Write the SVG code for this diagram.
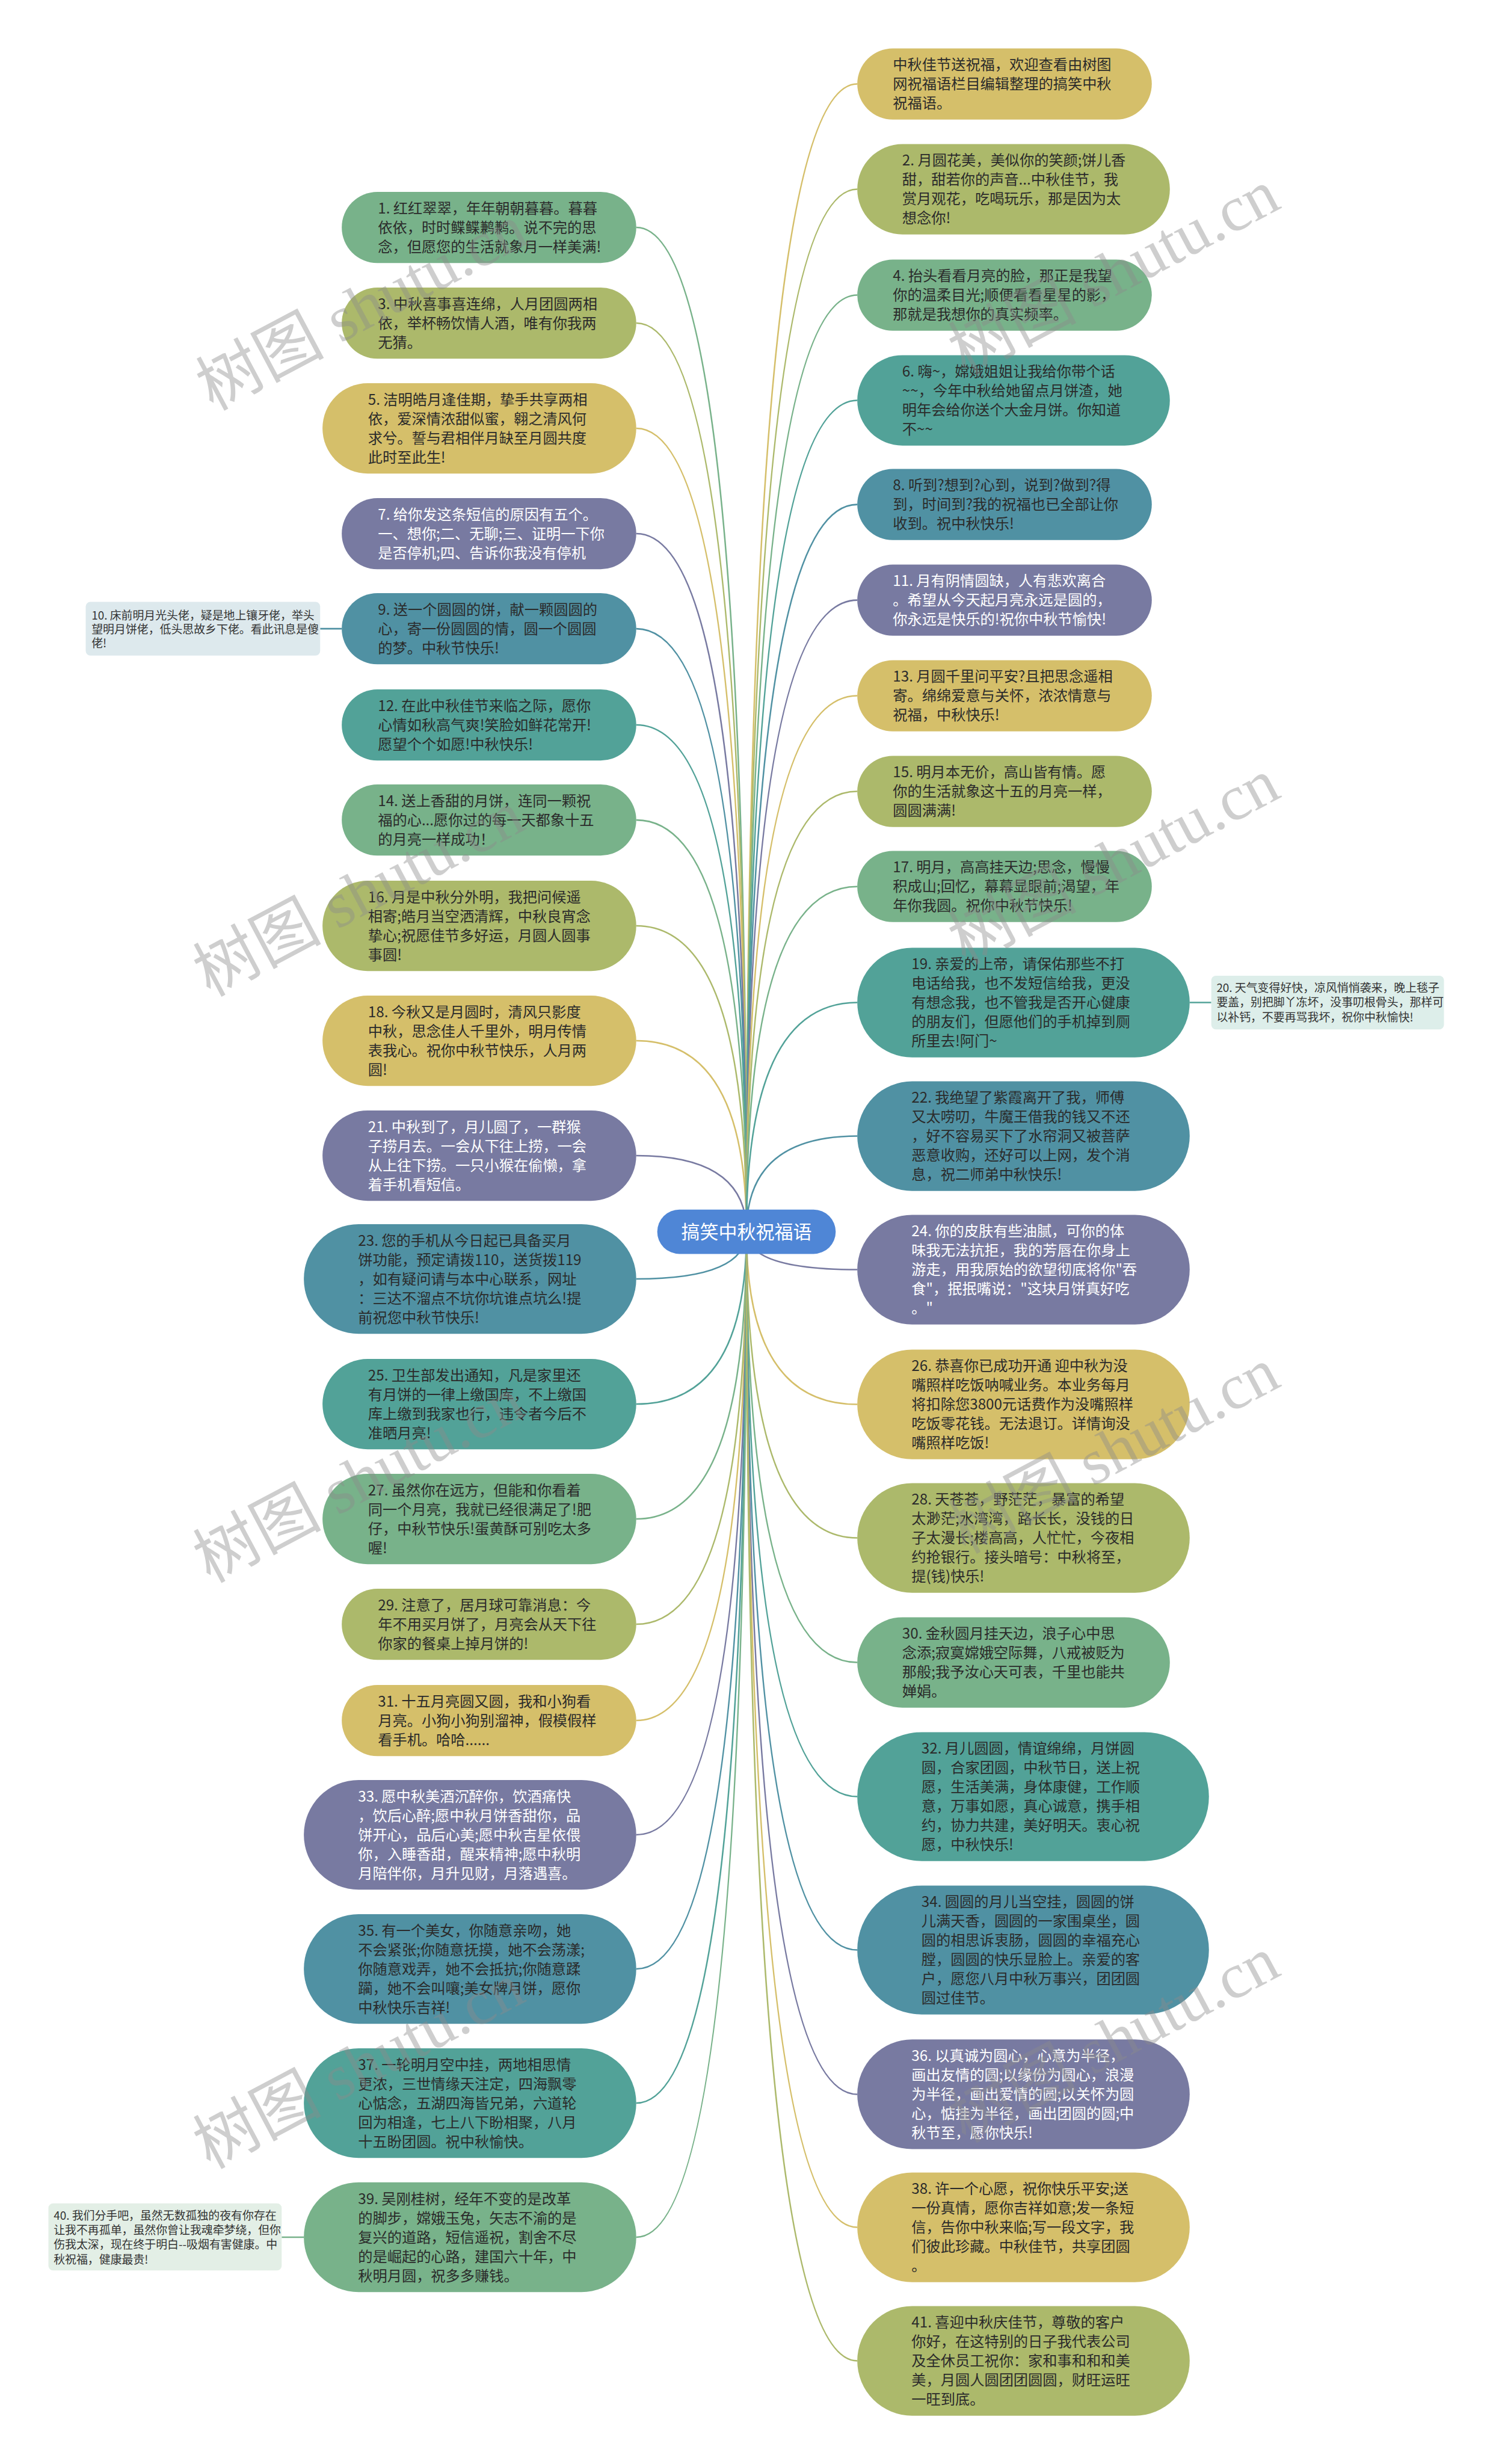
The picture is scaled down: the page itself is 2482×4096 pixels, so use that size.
<svg xmlns="http://www.w3.org/2000/svg" width="2482" height="4096" viewBox="0 0 2482 4096">
<style>
.t{font-family:"Noto Sans CJK SC","Noto Sans",sans-serif;font-size:25px;fill:#2b2b2b}
.w{fill:#ffffff}
.s{font-size:19.5px;fill:#333333}
.c{fill:none;stroke-width:2.6}
.green{fill:#78b28a}.olive{fill:#acb96b}.gold{fill:#d5bf6a}.purple{fill:#787aa1}.blue{fill:#5091a3}.teal{fill:#52a298}
.sg{stroke:#78b28a}.so{stroke:#acb96b}.sd{stroke:#d5bf6a}.sp{stroke:#787aa1}.sb{stroke:#5091a3}.st{stroke:#52a298}
.wm{font-family:"Liberation Serif","Noto Sans CJK SC",serif;font-size:110px;fill:#8c8c8c;opacity:0.42}
</style>
<rect width="2482" height="4096" fill="#ffffff"/>
<g transform="scale(0.9695)">
<g id="connectors">
<path class="c sg" d="M1280,2112 Q1280,390 1091,390"/>
<path class="c so" d="M1280,2112 Q1280,554 1091,554"/>
<path class="c sd" d="M1280,2112 Q1280,734.5 1091,734.5"/>
<path class="c sp" d="M1280,2112 Q1280,915 1091,915"/>
<path class="c sb" d="M1280,2112 Q1280,1078 1091,1078"/>
<path class="c st" d="M1280,2112 Q1280,1243 1091,1243"/>
<path class="c sg" d="M1280,2112 Q1280,1406 1091,1406"/>
<path class="c so" d="M1280,2112 Q1280,1587.5 1091,1587.5"/>
<path class="c sd" d="M1280,2112 Q1280,1784.5 1091,1784.5"/>
<path class="c sp" d="M1280,2112 Q1280,1981.5 1091,1981.5"/>
<path class="c sb" d="M1280,2112 Q1280,2193 1091,2193"/>
<path class="c st" d="M1280,2112 Q1280,2407.5 1091,2407.5"/>
<path class="c sg" d="M1280,2112 Q1280,2604.5 1091,2604.5"/>
<path class="c so" d="M1280,2112 Q1280,2785 1091,2785"/>
<path class="c sd" d="M1280,2112 Q1280,2950 1091,2950"/>
<path class="c sp" d="M1280,2112 Q1280,3146 1091,3146"/>
<path class="c sb" d="M1280,2112 Q1280,3376 1091,3376"/>
<path class="c st" d="M1280,2112 Q1280,3606 1091,3606"/>
<path class="c sg" d="M1280,2112 Q1280,3836 1091,3836"/>
<path class="c sd" d="M1280,2112 Q1280,144 1470,144"/>
<path class="c so" d="M1280,2112 Q1280,324.5 1470,324.5"/>
<path class="c sg" d="M1280,2112 Q1280,506 1470,506"/>
<path class="c st" d="M1280,2112 Q1280,686.5 1470,686.5"/>
<path class="c sb" d="M1280,2112 Q1280,865 1470,865"/>
<path class="c sp" d="M1280,2112 Q1280,1029 1470,1029"/>
<path class="c sd" d="M1280,2112 Q1280,1193 1470,1193"/>
<path class="c so" d="M1280,2112 Q1280,1357 1470,1357"/>
<path class="c sg" d="M1280,2112 Q1280,1520 1470,1520"/>
<path class="c st" d="M1280,2112 Q1280,1719 1470,1719"/>
<path class="c sb" d="M1280,2112 Q1280,1948 1470,1948"/>
<path class="c sp" d="M1280,2112 Q1280,2177 1470,2177"/>
<path class="c sd" d="M1280,2112 Q1280,2408 1470,2408"/>
<path class="c so" d="M1280,2112 Q1280,2637 1470,2637"/>
<path class="c sg" d="M1280,2112 Q1280,2850.5 1470,2850.5"/>
<path class="c st" d="M1280,2112 Q1280,3080.5 1470,3080.5"/>
<path class="c sb" d="M1280,2112 Q1280,3343.5 1470,3343.5"/>
<path class="c sp" d="M1280,2112 Q1280,3591 1470,3591"/>
<path class="c sd" d="M1280,2112 Q1280,3819 1470,3819"/>
<path class="c so" d="M1280,2112 Q1280,4048 1470,4048"/>
<path class="c sb" d="M549,1078 H586"/>
<path class="c st" d="M2040,1719 H2077"/>
<path class="c sg" d="M483,3836 H521"/>
</g>
<g id="center">
<rect x="1127" y="2074" width="306" height="76" rx="38" fill="#4f86d6"/>
<text x="1280" y="2124" text-anchor="middle" style="font-family:'Noto Sans CJK SC',sans-serif;font-size:32px;fill:#ffffff">搞笑中秋祝福语</text>
</g>
<g id="n1"><rect class="green" x="586" y="329" width="505" height="122" rx="61"/><text class="t" y="366"><tspan x="648">1. 红红翠翠，年年朝朝暮暮。暮暮</tspan><tspan x="648" dy="33">依依，时时鲽鲽鹣鹣。说不完的思</tspan><tspan x="648" dy="33">念，但愿您的生活就象月一样美满!</tspan></text></g>
<g id="n3"><rect class="olive" x="586" y="493" width="505" height="122" rx="61"/><text class="t" y="530"><tspan x="648">3. 中秋喜事喜连绵，人月团圆两相</tspan><tspan x="648" dy="33">依，举杯畅饮情人酒，唯有你我两</tspan><tspan x="648" dy="33">无猜。</tspan></text></g>
<g id="n5"><rect class="gold" x="553" y="657" width="538" height="155" rx="77.5"/><text class="t" y="694"><tspan x="631">5. 洁明皓月逢佳期，挚手共享两相</tspan><tspan x="631" dy="33">依，爱深情浓甜似蜜，翱之清风何</tspan><tspan x="631" dy="33">求兮。誓与君相伴月缺至月圆共度</tspan><tspan x="631" dy="33">此时至此生!</tspan></text></g>
<g id="n7"><rect class="purple" x="586" y="854" width="505" height="122" rx="61"/><text class="t w" y="891"><tspan x="648">7. 给你发这条短信的原因有五个。</tspan><tspan x="648" dy="33">一、想你;二、无聊;三、证明一下你</tspan><tspan x="648" dy="33">是否停机;四、告诉你我没有停机</tspan></text></g>
<g id="n9"><rect class="blue" x="586" y="1017" width="505" height="122" rx="61"/><text class="t" y="1054"><tspan x="648">9. 送一个圆圆的饼，献一颗圆圆的</tspan><tspan x="648" dy="33">心，寄一份圆圆的情，圆一个圆圆</tspan><tspan x="648" dy="33">的梦。中秋节快乐!</tspan></text></g>
<g id="n10"><rect x="147" y="1032" width="402" height="92" rx="8" fill="#dde9ed"/><text class="t s" y="1062"><tspan x="157">10. 床前明月光头佬，疑是地上镶牙佬，举头</tspan><tspan x="157" dy="24">望明月饼佬，低头思故乡下佬。看此讯息是傻</tspan><tspan x="157" dy="24">佬!</tspan></text></g>
<g id="n12"><rect class="teal" x="586" y="1182" width="505" height="122" rx="61"/><text class="t" y="1219"><tspan x="648">12. 在此中秋佳节来临之际，愿你</tspan><tspan x="648" dy="33">心情如秋高气爽!笑脸如鲜花常开!</tspan><tspan x="648" dy="33">愿望个个如愿!中秋快乐!</tspan></text></g>
<g id="n14"><rect class="green" x="586" y="1345" width="505" height="122" rx="61"/><text class="t" y="1382"><tspan x="648">14. 送上香甜的月饼，连同一颗祝</tspan><tspan x="648" dy="33">福的心...愿你过的每一天都象十五</tspan><tspan x="648" dy="33">的月亮一样成功！</tspan></text></g>
<g id="n16"><rect class="olive" x="553" y="1510" width="538" height="155" rx="77.5"/><text class="t" y="1547"><tspan x="631">16. 月是中秋分外明，我把问候遥</tspan><tspan x="631" dy="33">相寄;皓月当空洒清辉，中秋良宵念</tspan><tspan x="631" dy="33">挚心;祝愿佳节多好运，月圆人圆事</tspan><tspan x="631" dy="33">事圆!</tspan></text></g>
<g id="n18"><rect class="gold" x="553" y="1707" width="538" height="155" rx="77.5"/><text class="t" y="1744"><tspan x="631">18. 今秋又是月圆时，清风只影度</tspan><tspan x="631" dy="33">中秋，思念佳人千里外，明月传情</tspan><tspan x="631" dy="33">表我心。祝你中秋节快乐，人月两</tspan><tspan x="631" dy="33">圆!</tspan></text></g>
<g id="n21"><rect class="purple" x="553" y="1904" width="538" height="155" rx="77.5"/><text class="t w" y="1941"><tspan x="631">21. 中秋到了，月儿圆了，一群猴</tspan><tspan x="631" dy="33">子捞月去。一会从下往上捞，一会</tspan><tspan x="631" dy="33">从上往下捞。一只小猴在偷懒，拿</tspan><tspan x="631" dy="33">着手机看短信。</tspan></text></g>
<g id="n23"><rect class="blue" x="521" y="2099" width="570" height="188" rx="94"/><text class="t" y="2136"><tspan x="614">23. 您的手机从今日起已具备买月</tspan><tspan x="614" dy="33">饼功能，预定请拨110，送货拨119</tspan><tspan x="614" dy="33">，如有疑问请与本中心联系，网址</tspan><tspan x="614" dy="33">：三达不溜点不坑你坑谁点坑么!提</tspan><tspan x="614" dy="33">前祝您中秋节快乐!</tspan></text></g>
<g id="n25"><rect class="teal" x="553" y="2330" width="538" height="155" rx="77.5"/><text class="t" y="2367"><tspan x="631">25. 卫生部发出通知，凡是家里还</tspan><tspan x="631" dy="33">有月饼的一律上缴国库，不上缴国</tspan><tspan x="631" dy="33">库上缴到我家也行，违令者今后不</tspan><tspan x="631" dy="33">准晒月亮!</tspan></text></g>
<g id="n27"><rect class="green" x="553" y="2527" width="538" height="155" rx="77.5"/><text class="t" y="2564"><tspan x="631">27. 虽然你在远方，但能和你看着</tspan><tspan x="631" dy="33">同一个月亮，我就已经很满足了!肥</tspan><tspan x="631" dy="33">仔，中秋节快乐!蛋黄酥可别吃太多</tspan><tspan x="631" dy="33">喔!</tspan></text></g>
<g id="n29"><rect class="olive" x="586" y="2724" width="505" height="122" rx="61"/><text class="t" y="2761"><tspan x="648">29. 注意了，居月球可靠消息：今</tspan><tspan x="648" dy="33">年不用买月饼了，月亮会从天下往</tspan><tspan x="648" dy="33">你家的餐桌上掉月饼的!</tspan></text></g>
<g id="n31"><rect class="gold" x="586" y="2889" width="505" height="122" rx="61"/><text class="t" y="2926"><tspan x="648">31. 十五月亮圆又圆，我和小狗看</tspan><tspan x="648" dy="33">月亮。小狗小狗别溜神，假模假样</tspan><tspan x="648" dy="33">看手机。哈哈......</tspan></text></g>
<g id="n33"><rect class="purple" x="521" y="3052" width="570" height="188" rx="94"/><text class="t w" y="3089"><tspan x="614">33. 愿中秋美酒沉醉你，饮酒痛快</tspan><tspan x="614" dy="33">，饮后心醉;愿中秋月饼香甜你，品</tspan><tspan x="614" dy="33">饼开心，品后心美;愿中秋吉星依偎</tspan><tspan x="614" dy="33">你，入睡香甜，醒来精神;愿中秋明</tspan><tspan x="614" dy="33">月陪伴你，月升见财，月落遇喜。</tspan></text></g>
<g id="n35"><rect class="blue" x="521" y="3282" width="570" height="188" rx="94"/><text class="t" y="3319"><tspan x="614">35. 有一个美女，你随意亲吻，她</tspan><tspan x="614" dy="33">不会紧张;你随意抚摸，她不会荡漾;</tspan><tspan x="614" dy="33">你随意戏弄，她不会抵抗;你随意蹂</tspan><tspan x="614" dy="33">躏，她不会叫嚷;美女牌月饼，愿你</tspan><tspan x="614" dy="33">中秋快乐吉祥!</tspan></text></g>
<g id="n37"><rect class="teal" x="521" y="3512" width="570" height="188" rx="94"/><text class="t" y="3549"><tspan x="614">37. 一轮明月空中挂，两地相思情</tspan><tspan x="614" dy="33">更浓，三世情缘天注定，四海飘零</tspan><tspan x="614" dy="33">心惦念，五湖四海皆兄弟，六道轮</tspan><tspan x="614" dy="33">回为相逢，七上八下盼相聚，八月</tspan><tspan x="614" dy="33">十五盼团圆。祝中秋愉快。</tspan></text></g>
<g id="n39"><rect class="green" x="521" y="3742" width="570" height="188" rx="94"/><text class="t" y="3779"><tspan x="614">39. 吴刚桂树，经年不变的是改革</tspan><tspan x="614" dy="33">的脚步，嫦娥玉兔，矢志不渝的是</tspan><tspan x="614" dy="33">复兴的道路，短信遥祝，割舍不尽</tspan><tspan x="614" dy="33">的是崛起的心路，建国六十年，中</tspan><tspan x="614" dy="33">秋明月圆，祝多多赚钱。</tspan></text></g>
<g id="n40"><rect x="83" y="3778" width="400" height="115" rx="8" fill="#e3efe6"/><text class="t s" y="3806"><tspan x="92">40. 我们分手吧，虽然无数孤独的夜有你存在</tspan><tspan x="92" dy="25">让我不再孤单，虽然你曾让我魂牵梦绕，但你</tspan><tspan x="92" dy="25">伤我太深，现在终于明白--吸烟有害健康。中</tspan><tspan x="92" dy="25">秋祝福，健康最贵!</tspan></text></g>
<g id="n0"><rect class="gold" x="1470" y="83" width="505" height="122" rx="61"/><text class="t" y="120"><tspan x="1531">中秋佳节送祝福，欢迎查看由树图</tspan><tspan x="1531" dy="33">网祝福语栏目编辑整理的搞笑中秋</tspan><tspan x="1531" dy="33">祝福语。</tspan></text></g>
<g id="n2"><rect class="olive" x="1470" y="247" width="536" height="155" rx="77.5"/><text class="t" y="284"><tspan x="1547">2. 月圆花美，美似你的笑颜;饼儿香</tspan><tspan x="1547" dy="33">甜，甜若你的声音...中秋佳节，我</tspan><tspan x="1547" dy="33">赏月观花，吃喝玩乐，那是因为太</tspan><tspan x="1547" dy="33">想念你!</tspan></text></g>
<g id="n4"><rect class="green" x="1470" y="445" width="505" height="122" rx="61"/><text class="t" y="482"><tspan x="1531">4. 抬头看看月亮的脸，那正是我望</tspan><tspan x="1531" dy="33">你的温柔目光;顺便看看星星的影，</tspan><tspan x="1531" dy="33">那就是我想你的真实频率。</tspan></text></g>
<g id="n6"><rect class="teal" x="1470" y="609" width="536" height="155" rx="77.5"/><text class="t" y="646"><tspan x="1547">6. 嗨~，嫦娥姐姐让我给你带个话</tspan><tspan x="1547" dy="33">~~，今年中秋给她留点月饼渣，她</tspan><tspan x="1547" dy="33">明年会给你送个大金月饼。你知道</tspan><tspan x="1547" dy="33">不~~</tspan></text></g>
<g id="n8"><rect class="blue" x="1470" y="804" width="505" height="122" rx="61"/><text class="t" y="841"><tspan x="1531">8. 听到?想到?心到，说到?做到?得</tspan><tspan x="1531" dy="33">到，时间到?我的祝福也已全部让你</tspan><tspan x="1531" dy="33">收到。祝中秋快乐!</tspan></text></g>
<g id="n11"><rect class="purple" x="1470" y="968" width="505" height="122" rx="61"/><text class="t w" y="1005"><tspan x="1531">11. 月有阴情圆缺，人有悲欢离合</tspan><tspan x="1531" dy="33">。希望从今天起月亮永远是圆的，</tspan><tspan x="1531" dy="33">你永远是快乐的!祝你中秋节愉快!</tspan></text></g>
<g id="n13"><rect class="gold" x="1470" y="1132" width="505" height="122" rx="61"/><text class="t" y="1169"><tspan x="1531">13. 月圆千里问平安?且把思念遥相</tspan><tspan x="1531" dy="33">寄。绵绵爱意与关怀，浓浓情意与</tspan><tspan x="1531" dy="33">祝福，中秋快乐!</tspan></text></g>
<g id="n15"><rect class="olive" x="1470" y="1296" width="505" height="122" rx="61"/><text class="t" y="1333"><tspan x="1531">15. 明月本无价，高山皆有情。愿</tspan><tspan x="1531" dy="33">你的生活就象这十五的月亮一样，</tspan><tspan x="1531" dy="33">圆圆满满!</tspan></text></g>
<g id="n17"><rect class="green" x="1470" y="1459" width="505" height="122" rx="61"/><text class="t" y="1496"><tspan x="1531">17. 明月，高高挂天边;思念，慢慢</tspan><tspan x="1531" dy="33">积成山;回忆，幕幕显眼前;渴望，年</tspan><tspan x="1531" dy="33">年你我圆。祝你中秋节快乐!</tspan></text></g>
<g id="n19"><rect class="teal" x="1470" y="1625" width="570" height="188" rx="94"/><text class="t" y="1662"><tspan x="1563">19. 亲爱的上帝，请保佑那些不打</tspan><tspan x="1563" dy="33">电话给我，也不发短信给我，更没</tspan><tspan x="1563" dy="33">有想念我，也不管我是否开心健康</tspan><tspan x="1563" dy="33">的朋友们，但愿他们的手机掉到厕</tspan><tspan x="1563" dy="33">所里去!阿门~</tspan></text></g>
<g id="n20"><rect x="2077" y="1673" width="399" height="92" rx="8" fill="#ddeeea"/><text class="t s" y="1701"><tspan x="2086">20. 天气变得好快，凉风悄悄袭来，晚上毯子</tspan><tspan x="2086" dy="25">要盖，别把脚丫冻坏，没事叨根骨头，那样可</tspan><tspan x="2086" dy="25">以补钙，不要再骂我坏，祝你中秋愉快!</tspan></text></g>
<g id="n22"><rect class="blue" x="1470" y="1854" width="570" height="188" rx="94"/><text class="t" y="1891"><tspan x="1563">22. 我绝望了紫霞离开了我，师傅</tspan><tspan x="1563" dy="33">又太唠叨，牛魔王借我的钱又不还</tspan><tspan x="1563" dy="33">，好不容易买下了水帘洞又被菩萨</tspan><tspan x="1563" dy="33">恶意收购，还好可以上网，发个消</tspan><tspan x="1563" dy="33">息，祝二师弟中秋快乐!</tspan></text></g>
<g id="n24"><rect class="purple" x="1470" y="2083" width="570" height="188" rx="94"/><text class="t w" y="2120"><tspan x="1563">24. 你的皮肤有些油腻，可你的体</tspan><tspan x="1563" dy="33">味我无法抗拒，我的芳唇在你身上</tspan><tspan x="1563" dy="33">游走，用我原始的欲望彻底将你"吞</tspan><tspan x="1563" dy="33">食"，抿抿嘴说："这块月饼真好吃</tspan><tspan x="1563" dy="33">。"</tspan></text></g>
<g id="n26"><rect class="gold" x="1470" y="2314" width="570" height="188" rx="94"/><text class="t" y="2351"><tspan x="1563">26. 恭喜你已成功开通 迎中秋为没</tspan><tspan x="1563" dy="33">嘴照样吃饭呐喊业务。本业务每月</tspan><tspan x="1563" dy="33">将扣除您3800元话费作为没嘴照样</tspan><tspan x="1563" dy="33">吃饭零花钱。无法退订。详情询没</tspan><tspan x="1563" dy="33">嘴照样吃饭!</tspan></text></g>
<g id="n28"><rect class="olive" x="1470" y="2543" width="570" height="188" rx="94"/><text class="t" y="2580"><tspan x="1563">28. 天苍苍，野茫茫，暴富的希望</tspan><tspan x="1563" dy="33">太渺茫;水湾湾，路长长，没钱的日</tspan><tspan x="1563" dy="33">子太漫长;楼高高，人忙忙，今夜相</tspan><tspan x="1563" dy="33">约抢银行。接头暗号：中秋将至，</tspan><tspan x="1563" dy="33">提(钱)快乐!</tspan></text></g>
<g id="n30"><rect class="green" x="1470" y="2773" width="536" height="155" rx="77.5"/><text class="t" y="2810"><tspan x="1547">30. 金秋圆月挂天边，浪子心中思</tspan><tspan x="1547" dy="33">念添;寂寞嫦娥空际舞，八戒被贬为</tspan><tspan x="1547" dy="33">那般;我予汝心天可表，千里也能共</tspan><tspan x="1547" dy="33">婵娟。</tspan></text></g>
<g id="n32"><rect class="teal" x="1470" y="2970" width="603" height="221" rx="110.5"/><text class="t" y="3007"><tspan x="1580">32. 月儿圆圆，情谊绵绵，月饼圆</tspan><tspan x="1580" dy="33">圆，合家团圆，中秋节日，送上祝</tspan><tspan x="1580" dy="33">愿，生活美满，身体康健，工作顺</tspan><tspan x="1580" dy="33">意，万事如愿，真心诚意，携手相</tspan><tspan x="1580" dy="33">约，协力共建，美好明天。衷心祝</tspan><tspan x="1580" dy="33">愿，中秋快乐!</tspan></text></g>
<g id="n34"><rect class="blue" x="1470" y="3233" width="603" height="221" rx="110.5"/><text class="t" y="3270"><tspan x="1580">34. 圆圆的月儿当空挂，圆圆的饼</tspan><tspan x="1580" dy="33">儿满天香，圆圆的一家围桌坐，圆</tspan><tspan x="1580" dy="33">圆的相思诉衷肠，圆圆的幸福充心</tspan><tspan x="1580" dy="33">膛，圆圆的快乐显脸上。亲爱的客</tspan><tspan x="1580" dy="33">户，愿您八月中秋万事兴，团团圆</tspan><tspan x="1580" dy="33">圆过佳节。</tspan></text></g>
<g id="n36"><rect class="purple" x="1470" y="3497" width="570" height="188" rx="94"/><text class="t w" y="3534"><tspan x="1563">36. 以真诚为圆心，心意为半径，</tspan><tspan x="1563" dy="33">画出友情的圆;以缘份为圆心，浪漫</tspan><tspan x="1563" dy="33">为半径，画出爱情的圆;以关怀为圆</tspan><tspan x="1563" dy="33">心，惦挂为半径，画出团圆的圆;中</tspan><tspan x="1563" dy="33">秋节至，愿你快乐!</tspan></text></g>
<g id="n38"><rect class="gold" x="1470" y="3725" width="570" height="188" rx="94"/><text class="t" y="3762"><tspan x="1563">38. 许一个心愿，祝你快乐平安;送</tspan><tspan x="1563" dy="33">一份真情，愿你吉祥如意;发一条短</tspan><tspan x="1563" dy="33">信，告你中秋来临;写一段文字，我</tspan><tspan x="1563" dy="33">们彼此珍藏。中秋佳节，共享团圆</tspan><tspan x="1563" dy="33">。</tspan></text></g>
<g id="n41"><rect class="olive" x="1470" y="3954" width="570" height="188" rx="94"/><text class="t" y="3991"><tspan x="1563">41. 喜迎中秋庆佳节，尊敬的客户</tspan><tspan x="1563" dy="33">你好，在这特别的日子我代表公司</tspan><tspan x="1563" dy="33">及全休员工祝你：家和事和和和美</tspan><tspan x="1563" dy="33">美，月圆人圆团团圆圆，财旺运旺</tspan><tspan x="1563" dy="33">一旺到底。</tspan></text></g>
<g id="watermark">
<text class="wm" transform="translate(365,705) rotate(-28)">树图 shutu.cn</text>
<text class="wm" transform="translate(360,1710) rotate(-28)">树图 shutu.cn</text>
<text class="wm" transform="translate(360,2715) rotate(-28)">树图 shutu.cn</text>
<text class="wm" transform="translate(360,3720) rotate(-28)">树图 shutu.cn</text>
<text class="wm" transform="translate(1655,645) rotate(-28)">树图 shutu.cn</text>
<text class="wm" transform="translate(1655,1655) rotate(-28)">树图 shutu.cn</text>
<text class="wm" transform="translate(1655,2665) rotate(-28)">树图 shutu.cn</text>
<text class="wm" transform="translate(1655,3675) rotate(-28)">树图 shutu.cn</text>
</g>
</g>
</svg>
